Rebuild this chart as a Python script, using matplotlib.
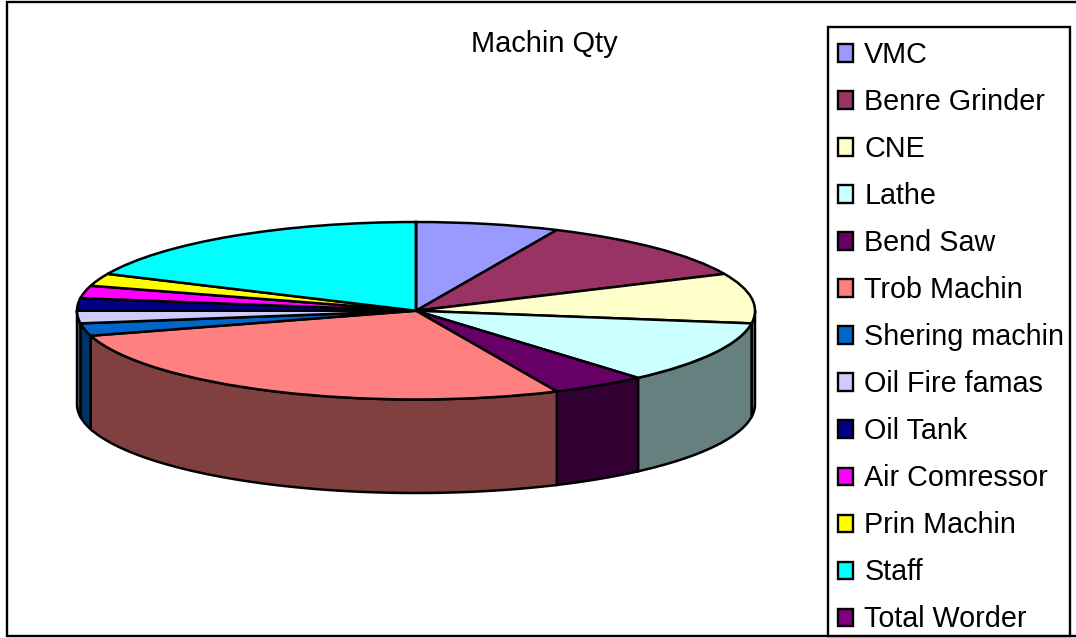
import numpy as np
import matplotlib
matplotlib.use("Agg")
import matplotlib.pyplot as plt
from matplotlib.patches import Rectangle
from matplotlib.colors import to_rgb

plt.rcParams['font.family'] = ['Liberation Sans', 'DejaVu Sans']

categories = ["VMC", "Benre Grinder", "CNE", "Lathe", "Bend Saw", "Trob Machin",
              "Shering machin", "Oil Fire famas", "Oil Tank", "Air Comressor",
              "Prin Machin", "Staff", "Total Worder"]
values = [3, 5, 4, 5, 2, 12, 1, 1, 1, 1, 1, 8, 0]
colors = ["#9999FF", "#993366", "#FFFFCC", "#CCFFFF", "#660066", "#FF8080",
          "#0066CC", "#CCCCFF", "#000080", "#FF00FF", "#FFFF00", "#00FFFF", "#800080"]
title = "Machin Qty"

W, H = 1076, 638
LW = 1.8
FRAME_LW = 1.7
fig = plt.figure(figsize=(W / 100, H / 100), dpi=100, facecolor="white")


def fx(px):
    return px / W


def fy(py):
    return 1 - py / H


# outer chart frame and legend frame
fig.add_artist(Rectangle((fx(7), fy(636)), fx(1085 - 7), fy(2) - fy(636), transform=fig.transFigure,
                         facecolor="white", edgecolor="black", linewidth=FRAME_LW, zorder=-2))
fig.add_artist(Rectangle((fx(828), fy(636)), fx(1070 - 828), fy(27) - fy(636), transform=fig.transFigure,
                         facecolor="white", edgecolor="black", linewidth=FRAME_LW, zorder=-1))

left, right, top, bottom = 77, 755, 222, 399.5
ax = fig.add_axes([fx(left), fy(bottom), fx(right - left), fy(top) - fy(bottom)])
wedges, _ = ax.pie(values, colors=colors, startangle=90, counterclock=False, radius=1,
                   wedgeprops=dict(edgecolor="black", linewidth=LW, zorder=3))
ax.set_aspect("auto")
ax.set_xlim(-1, 1)
ax.set_ylim(-1, 1)
ax.set_axis_off()

# cylinder side: the visible front half of each slice, dimmed to half brightness
depth = 93.5 / ((bottom - top) / 2)
fractions = np.array(values, dtype=float) / np.sum(values)
ends = 90 - 360 * np.cumsum(fractions)
starts = np.concatenate([[90], ends[:-1]])
for a0, a1, c in zip(starts, ends, colors):
    # the front half spans math angles 0 .. -180
    s = min(a0, 0.0)
    e = max(a1, -180.0)
    if s <= e:
        continue
    t = np.radians(np.linspace(s, e, 80))
    x = np.cos(t)
    y = np.sin(t)
    px = np.concatenate([x, x[::-1]])
    py = np.concatenate([y, y[::-1] - depth])
    rgb = tuple(v * 0.5 for v in to_rgb(c))
    ax.fill(px, py, facecolor=rgb, edgecolor="black", linewidth=LW, zorder=2, clip_on=False)

fig.text(fx(544.5), fy(44.5), title, ha="center", va="center", fontsize=20.9, color="black")

fs = 20.7
leg = fig.legend(wedges, categories, loc="upper left",
                 bbox_to_anchor=(fx(827.5), fy(31), fx(242), 0), frameon=False,
                 fontsize=fs, borderpad=0.35, borderaxespad=0, handlelength=0.55,
                 handleheight=0.55, handletextpad=0.38, labelspacing=0.662, labelcolor="black")
for h in leg.legend_handles:
    h.set_linewidth(FRAME_LW)

fig.savefig("out.png", dpi=100)
